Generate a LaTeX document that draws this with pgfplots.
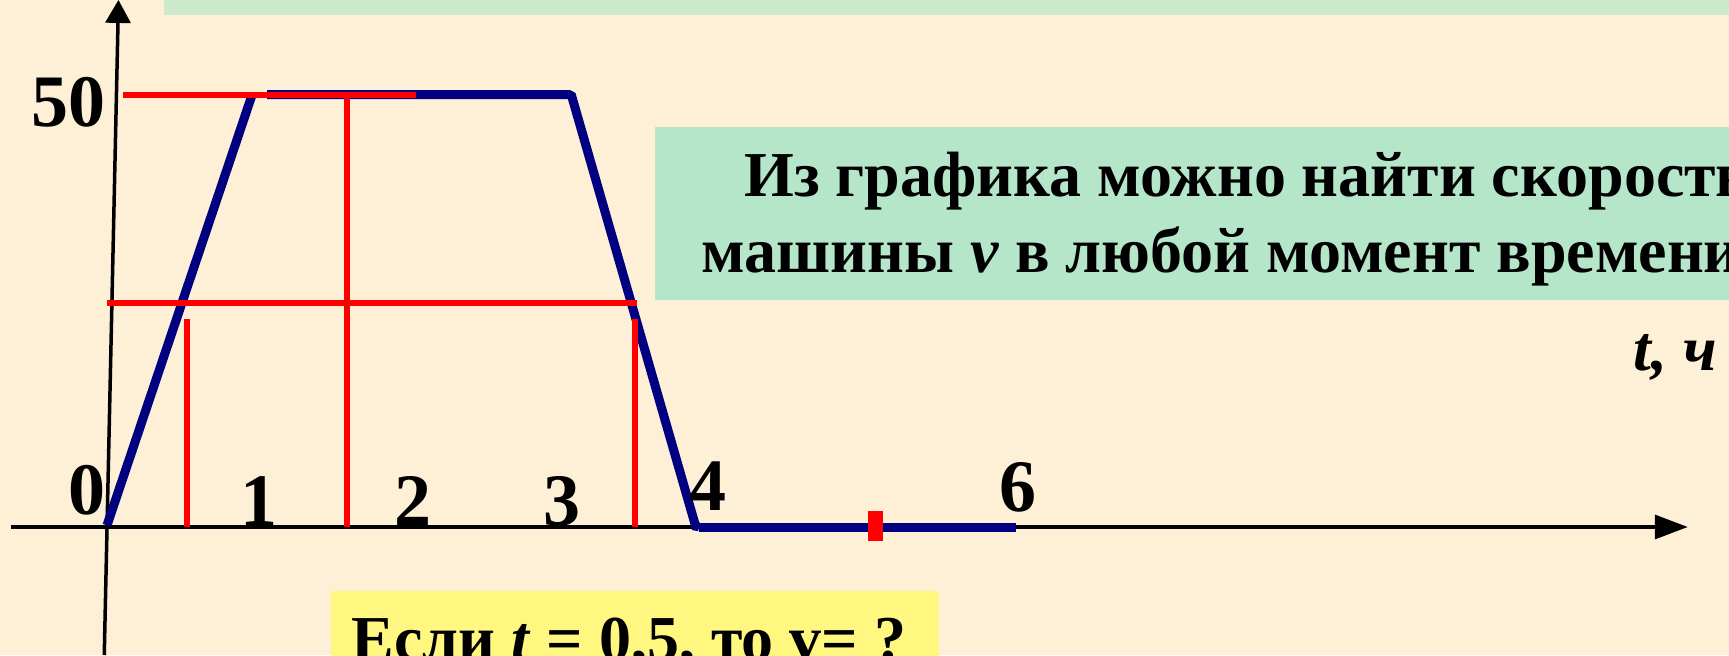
\documentclass[border=0pt]{standalone}
\usepackage{pgfplots}
\pgfplotsset{compat=1.18}
\usetikzlibrary{arrows.meta}
\usepackage{fontspec}
\setmainfont{Liberation Serif}

\definecolor{bgcream}{RGB}{254,240,214}
\definecolor{boxgreen}{RGB}{181,230,201}
\definecolor{bannergreen}{RGB}{204,233,203}
\definecolor{boxyellow}{RGB}{255,247,128}
\definecolor{navy}{RGB}{0,0,128}

\begin{document}
\begin{tikzpicture}
\begin{axis}[
    scale only axis, width=864.5pt, height=327.5pt,
    xmin=-0.7053, xmax=10.692, ymin=-14.815, ymax=60.995,
    hide axis, clip=false,
]
    % background and boxes of the slide
    \fill[bgcream] (rel axis cs:0,0) rectangle (rel axis cs:1,1);
    \fill[bannergreen] (axis cs:0.376,59.26) rectangle (axis cs:11.5,63);
    \fill[boxgreen] (axis cs:3.612,46.33) rectangle (axis cs:11.5,26.27);
    \fill[boxyellow] (axis cs:1.477,-7.41) rectangle (axis cs:5.483,-16);

    % axes
    \addplot[black, line width=1.75pt, -{Triangle[length=16.5pt,width=12pt]}]
        coordinates {(-0.63,0) (10.42,0)};
    \addplot[black, line width=1.75pt, -{Triangle[length=11.5pt,width=12.5pt]}]
        coordinates {(-0.018,-14.815) (0.0758,61.0)};

    % speed graph v(t)
    \addplot[navy, line width=4.5pt] coordinates {(0,0.2) (0.953,49.84)};
    \addplot[navy, line width=4.5pt] coordinates {(1.055,50.05) (3.045,50.05) (3.063,49.88) (3.880,0.1) (3.902,0.03)};
    \addplot[navy, line width=4.5pt] coordinates {(3.902,0) (5.995,0)};

    % red reading lines
    \addplot[red, line width=3pt] coordinates {(0.105,50.05) (2.034,50.05)};
    \addplot[red, line width=3pt] coordinates {(1.579,49.88) (1.579,0)};
    \addplot[red, line width=3pt] coordinates {(0,25.93) (3.494,25.93)};
    \addplot[red, line width=3pt] coordinates {(0.527,24.07) (0.527,0)};
    \addplot[red, line width=3pt] coordinates {(3.481,24.07) (3.481,0)};
    \addplot[red, line width=7.5pt] coordinates {(5.063,1.85) (5.063,-1.62)};

    % tick labels
    \begin{scope}[every node/.style={inner sep=0pt, anchor=base, font=\fontsize{37}{40}\selectfont\bfseries}]
        \node at (axis cs:-0.257,46.30) {50};
        \node at (axis cs:-0.135,1.50) {0};
        \node at (axis cs:1.005,0.23) {1};
        \node at (axis cs:2.017,0.23) {2};
        \node at (axis cs:2.999,0.23) {3};
        \node at (axis cs:3.962,1.89) {4};
        \node at (axis cs:6.002,1.85) {6};
    \end{scope}

    % texts
    \begin{scope}[every node/.style={inner sep=0pt, anchor=base west, font=\fontsize{32}{38}\selectfont\bfseries}]
        \node at (axis cs:4.199,38.23) {Из графика можно найти скорость};
        \node at (axis cs:3.916,29.40) {машины \textit{v} в любой момент времени};
        \node at (axis cs:10.06,18.17) {\textit{t, ч}};
        \node at (axis cs:1.608,-15.5) {Если \textit{t} = 0,5, то v= ?};
    \end{scope}

    \coordinate (sw) at (rel axis cs:0,0);
    \coordinate (ne) at (rel axis cs:1,1);
\end{axis}
\pgfresetboundingbox
\path[use as bounding box] (sw) rectangle (ne);
\end{tikzpicture}
\end{document}
